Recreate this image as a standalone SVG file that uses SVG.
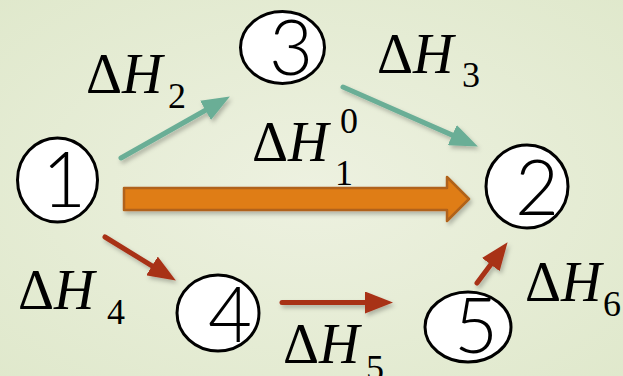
<svg xmlns="http://www.w3.org/2000/svg" width="623" height="376" viewBox="0 0 623 376">
<defs>
<radialGradient id="bg" cx="0.5" cy="0.5" r="0.75">
<stop offset="0" stop-color="#edf1e0"/>
<stop offset="1" stop-color="#dfe8cb"/>
</radialGradient>
<filter id="sh" x="-20%" y="-20%" width="140%" height="140%">
<feDropShadow dx="2" dy="3" stdDeviation="2" flood-color="#000" flood-opacity="0.25"/>
</filter>
<marker id="hT" markerUnits="userSpaceOnUse" viewBox="0 0 28 22" refX="0" refY="11" markerWidth="28" markerHeight="22" orient="auto">
<path d="M0,0 L28,11 L0,22 z" fill="#6aae96"/>
</marker>
<marker id="hR" markerUnits="userSpaceOnUse" viewBox="0 0 28 22" refX="0" refY="11" markerWidth="28" markerHeight="22" orient="auto">
<path d="M0,0 L28,11 L0,22 z" fill="#a83018"/>
</marker>
</defs>
<style>
.node ellipse{fill:#fff;stroke:#000;stroke-width:3}
.digit{font-family:Lato,"Liberation Sans",sans-serif;font-weight:300;font-size:76px;fill:#000;text-anchor:middle}
.lbl{font-family:"Liberation Serif","Times New Roman",serif;font-size:56px;fill:#000}
.sub{font-family:"Liberation Serif","Times New Roman",serif;font-size:36px;fill:#000}
.it{font-style:italic}
.teal{stroke:#6aae96;stroke-width:5;stroke-linecap:round;fill:none;marker-end:url(#hT)}
.red{stroke:#a83018;stroke-width:5;stroke-linecap:round;fill:none;marker-end:url(#hR)}
</style>
<rect x="0" y="0" width="623" height="376" fill="url(#bg)"/>

<g id="connectors" filter="url(#sh)">
<line class="teal" x1="121" y1="158" x2="205.5" y2="110.3"/>
<line class="teal" x1="343" y1="87" x2="452.3" y2="135.1"/>
<line class="red" x1="105" y1="237" x2="152" y2="265.9"/>
<line class="red" x1="282" y1="302.5" x2="365" y2="302.5"/>
<line class="red" x1="477" y1="283" x2="490.8" y2="264.6"/>
<polygon points="124,188 447,188 447,177 469,199 447,221 447,210 124,210" fill="#df7d18" stroke="#b0621a" stroke-width="2.5" stroke-linejoin="round"/>
</g>

<g id="node1" class="node">
<ellipse cx="57.5" cy="180" rx="40" ry="42"/>
<text class="digit" x="64" y="207">1</text>
</g>
<g id="node2" class="node">
<ellipse cx="527" cy="186.5" rx="41" ry="41.5"/>
<text class="digit" x="537" y="215">2</text>
</g>
<g id="node3" class="node">
<ellipse cx="282.5" cy="47.5" rx="42" ry="36"/>
<text class="digit" x="291" y="75">3</text>
</g>
<g id="node4" class="node">
<ellipse cx="218" cy="313" rx="41" ry="38"/>
<text class="digit" x="230" y="342">4</text>
</g>
<g id="node5" class="node">
<ellipse cx="468" cy="327" rx="43" ry="35"/>
<text class="digit" x="476" y="353">5</text>
</g>

<g id="labels">
<text class="lbl" x="86" y="93">Δ<tspan class="it">H</tspan></text>
<text class="sub" x="168" y="108">2</text>
<text class="lbl" x="377" y="73">Δ<tspan class="it">H</tspan></text>
<text class="sub" x="462" y="87">3</text>
<text class="lbl" x="252" y="161">Δ<tspan class="it">H</tspan></text>
<text class="sub" x="335" y="185">1</text>
<text class="sub" x="340" y="133">0</text>
<text class="lbl" x="18" y="309">Δ<tspan class="it">H</tspan></text>
<text class="sub" x="107" y="324">4</text>
<text class="lbl" x="283" y="363">Δ<tspan class="it">H</tspan></text>
<text class="sub" x="366" y="380">5</text>
<text class="lbl" x="525" y="301">Δ<tspan class="it">H</tspan></text>
<text class="sub" x="603" y="316">6</text>
</g>
</svg>
